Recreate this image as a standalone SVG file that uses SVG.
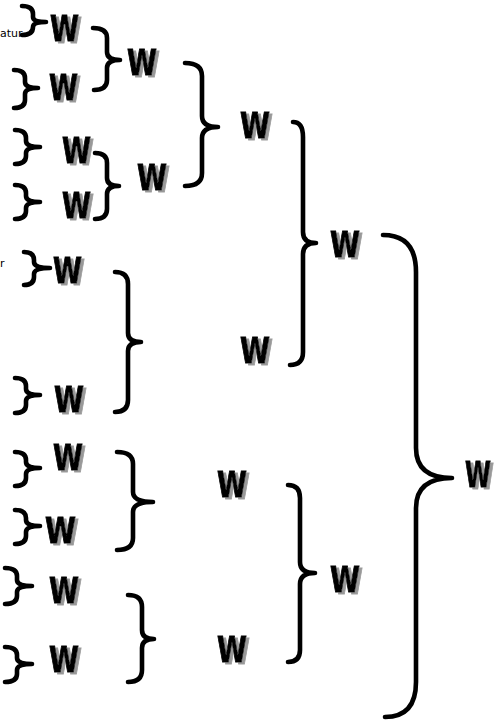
<svg xmlns="http://www.w3.org/2000/svg" width="495" height="721" viewBox="0 0 495 721">
<style>
.br{fill:none;stroke:#000;stroke-width:4.6;stroke-linecap:round;stroke-linejoin:round}
.w{font-family:"DejaVu Sans","Liberation Sans",sans-serif;font-weight:bold;font-size:36px;fill:#000;stroke:#000;stroke-width:1;filter:url(#sh)}
.lbl{font-family:"DejaVu Sans","Liberation Sans",sans-serif;font-size:11px;fill:#000}
</style>
<defs>
<filter id="sh" x="-20%" y="-20%" width="150%" height="150%">
<feDropShadow dx="3" dy="2" stdDeviation="0.7" flood-color="#999" flood-opacity="1"/>
</filter>
</defs>
<rect width="495" height="721" fill="#fff"/>
<g id="connectors">
<path class="br" d="M22,6 Q33,6 33,14 L33,17 Q33,22 46,22 Q33,22 33,27 L33,27 Q33,35 22,35"/>
<path class="br" d="M14,70 Q25,70 25,78 L25,82 Q25,88 38,88 Q25,88 25,94 L25,100 Q25,108 14,108"/>
<path class="br" d="M15,130 Q26,130 26,138 L26,141 Q26,147 40,147 Q26,147 26,153 L26,156 Q26,164 15,164"/>
<path class="br" d="M15,185 Q26,185 26,193 L26,196 Q26,202 40,202 Q26,202 26,208 L26,211 Q26,219 15,219"/>
<path class="br" d="M24,252 Q34,252 34,260 L34,262 Q34,268 50,268 Q34,268 34,274 L34,277 Q34,285 24,285"/>
<path class="br" d="M15,378 Q26,378 26,386 L26,389 Q26,395 40,395 Q26,395 26,401 L26,405 Q26,413 15,413"/>
<path class="br" d="M15,452 Q26,452 26,460 L26,462 Q26,468 40,468 Q26,468 26,474 L26,478 Q26,486 15,486"/>
<path class="br" d="M15,510 Q26,510 26,518 L26,520 Q26,526 40,526 Q26,526 26,532 L26,536 Q26,544 15,544"/>
<path class="br" d="M5,568 Q17,568 17,576 L17,580 Q17,586 32,586 Q17,586 17,592 L17,596 Q17,604 5,604"/>
<path class="br" d="M5,647 Q17,647 17,655 L17,658 Q17,664 32,664 Q17,664 17,670 L17,674 Q17,682 5,682"/>
<path class="br" d="M93,28 Q107,28 107,38 L107,52 Q107,60 120,60 Q107,60 107,68 L107,80 Q107,90 94,90"/>
<path class="br" d="M95,153 Q107,153 107,163 L107,178 Q107,186 119,186 Q107,186 107,194 L107,209 Q107,219 95,219"/>
<path class="br" d="M115,272 Q128,272 128,284 L128,333 Q128,342 141,342 Q128,342 128,351 L128,400 Q128,412 115,412"/>
<path class="br" d="M117,452 Q133,452 133,464 L133,492 Q133,502 153,502 Q133,502 133,512 L133,538 Q133,550 117,550"/>
<path class="br" d="M128,595 Q142,595 142,607 L142,630 Q142,639 154,639 Q142,639 142,648 L142,670 Q142,682 128,682"/>
<path class="br" d="M185,63 Q202,63 202,76 L202,116 Q202,127 218,127 Q202,127 202,138 L202,173 Q202,186 185,186"/>
<path class="br" d="M293,122 Q303,122 303,137 L303,232 Q303,243 316,243 Q303,243 303,254 L303,352 Q303,365 290,365"/>
<path class="br" d="M288,485 Q300,485 300,498 L300,562 Q300,573 315,573 Q300,573 300,584 L300,650 Q300,662 288,662"/>
<path class="br" d="M383,235 Q416,235 416,272 L416,448 Q416,478 452,478 Q416,478 416,508 L416,682 Q416,717 385,717"/>
</g>
<g id="lbl1"><text class="lbl" x="0" y="37">atur</text></g>
<g id="lbl2"><text class="lbl" x="0" y="267">r</text></g>
<g id="w1"><text class="w" x="50" y="41" textLength="29" lengthAdjust="spacingAndGlyphs">W</text></g>
<g id="w2"><text class="w" x="49" y="100" textLength="29" lengthAdjust="spacingAndGlyphs">W</text></g>
<g id="wc1"><text class="w" x="127" y="75" textLength="30" lengthAdjust="spacingAndGlyphs">W</text></g>
<g id="w3"><text class="w" x="62" y="163" textLength="29" lengthAdjust="spacingAndGlyphs">W</text></g>
<g id="w4"><text class="w" x="62" y="218" textLength="29" lengthAdjust="spacingAndGlyphs">W</text></g>
<g id="wc2"><text class="w" x="137" y="190" textLength="30" lengthAdjust="spacingAndGlyphs">W</text></g>
<g id="wd1"><text class="w" x="240" y="138" textLength="30" lengthAdjust="spacingAndGlyphs">W</text></g>
<g id="we1"><text class="w" x="330" y="257" textLength="30" lengthAdjust="spacingAndGlyphs">W</text></g>
<g id="wc3"><text class="w" x="240" y="363" textLength="30" lengthAdjust="spacingAndGlyphs">W</text></g>
<g id="w5"><text class="w" x="53" y="283" textLength="29" lengthAdjust="spacingAndGlyphs">W</text></g>
<g id="w6"><text class="w" x="54" y="412" textLength="30" lengthAdjust="spacingAndGlyphs">W</text></g>
<g id="w7"><text class="w" x="53" y="470" textLength="30" lengthAdjust="spacingAndGlyphs">W</text></g>
<g id="w8"><text class="w" x="45" y="543" textLength="31" lengthAdjust="spacingAndGlyphs">W</text></g>
<g id="w9"><text class="w" x="49" y="603" textLength="30" lengthAdjust="spacingAndGlyphs">W</text></g>
<g id="w10"><text class="w" x="49" y="672" textLength="30" lengthAdjust="spacingAndGlyphs">W</text></g>
<g id="wc4"><text class="w" x="217" y="497" textLength="30" lengthAdjust="spacingAndGlyphs">W</text></g>
<g id="wc5"><text class="w" x="217" y="662" textLength="30" lengthAdjust="spacingAndGlyphs">W</text></g>
<g id="we2"><text class="w" x="330" y="592" textLength="30" lengthAdjust="spacingAndGlyphs">W</text></g>
<g id="wf"><text class="w" x="465" y="487" textLength="26" lengthAdjust="spacingAndGlyphs">W</text></g>
</svg>
